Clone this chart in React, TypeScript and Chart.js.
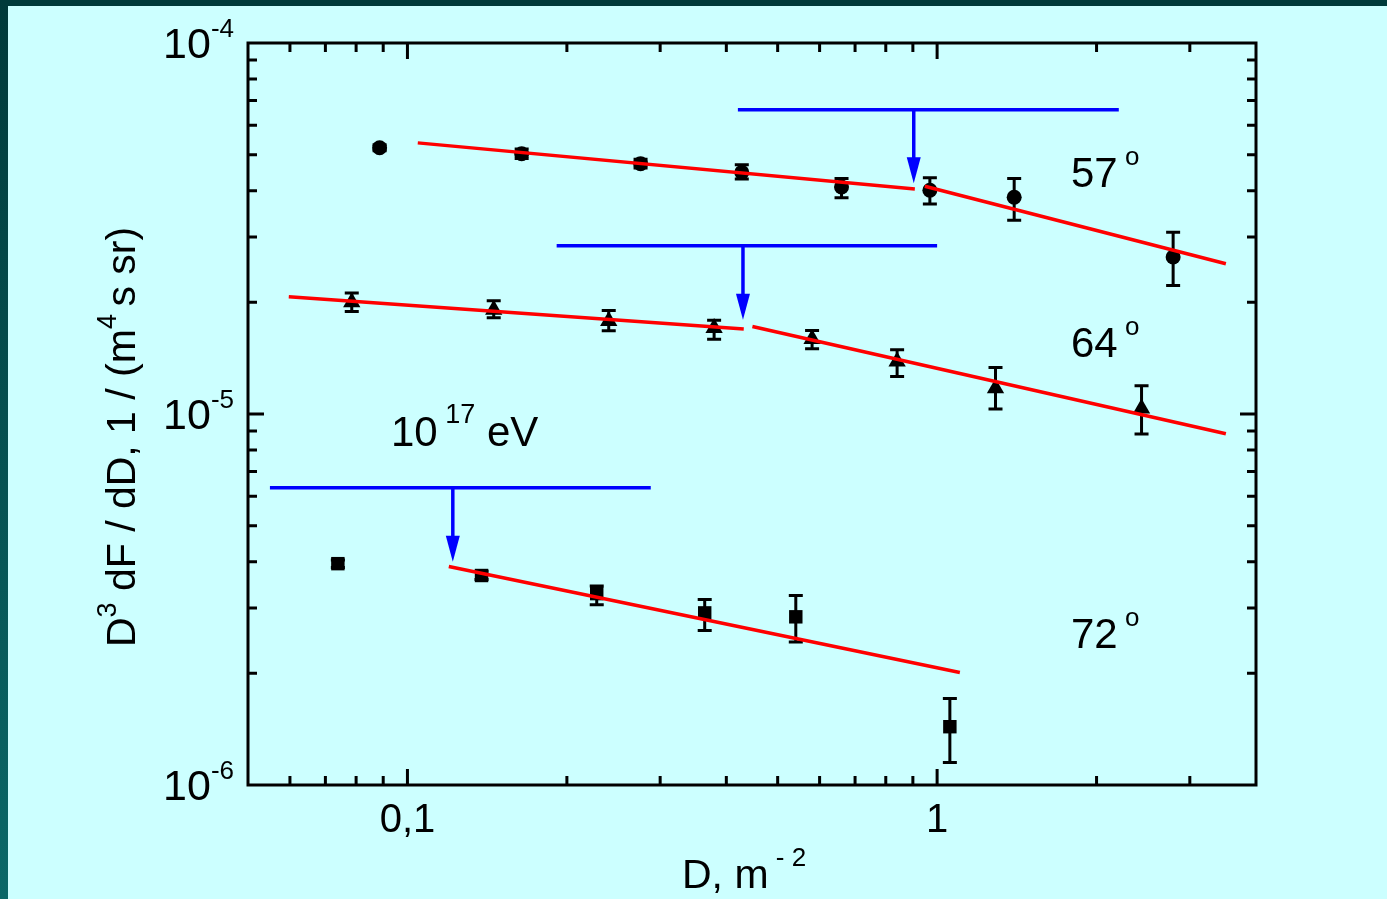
import React, { useEffect, useRef } from "react";
import { Chart, registerables } from "chart.js";

Chart.register(...registerables);

const FONT = '"Liberation Sans", Arial, Helvetica, sans-serif';
const W = 1387;
const H = 899;

// ---- 57 degrees (circles) ----
const d57 = [0.0886, 0.1643, 0.2755, 0.4278, 0.66, 0.969, 1.398, 2.79];
const f57 = [5.22e-5, 5.03e-5, 4.73e-5, 4.48e-5, 4.09e-5, 4.01e-5, 3.84e-5, 2.65e-5];
const f57Lo = [5.12e-5, 4.88e-5, 4.6e-5, 4.3e-5, 3.83e-5, 3.68e-5, 3.33e-5, 2.22e-5];
const f57Hi = [5.32e-5, 5.18e-5, 4.86e-5, 4.7e-5, 4.31e-5, 4.33e-5, 4.31e-5, 3.09e-5];

// ---- 64 degrees (triangles) ----
const d64 = [0.0785, 0.1455, 0.2399, 0.3793, 0.5807, 0.8404, 1.289, 2.432];
const f64 = [2.0e-5, 1.91e-5, 1.78e-5, 1.705e-5, 1.593e-5, 1.386e-5, 1.174e-5, 1.034e-5];
const f64Lo = [1.89e-5, 1.817e-5, 1.677e-5, 1.59e-5, 1.5e-5, 1.263e-5, 1.031e-5, 8.83e-6];
const f64Hi = [2.12e-5, 2.02e-5, 1.9e-5, 1.79e-5, 1.68e-5, 1.49e-5, 1.335e-5, 1.192e-5];

// ---- 72 degrees (squares) ----
const d72 = [0.0739, 0.138, 0.2277, 0.3641, 0.541, 1.057];
const f72 = [3.95e-6, 3.67e-6, 3.28e-6, 2.91e-6, 2.84e-6, 1.436e-6];
const f72Lo = [3.86e-6, 3.58e-6, 3.06e-6, 2.61e-6, 2.43e-6, 1.15e-6];
const f72Hi = [4.04e-6, 3.77e-6, 3.44e-6, 3.16e-6, 3.24e-6, 1.71e-6];

// ---- power-law fits (two branches for 57 and 64, one for 72) ----
const fit57aD = [0.1046, 0.9077];
const fit57aF = [5.38e-5, 4.04e-5];
const fit57bD = [0.948, 3.509];
const fit57bF = [4.11e-5, 2.54e-5];
const fit64aD = [0.0597, 0.4315];
const fit64aF = [2.07e-5, 1.694e-5];
const fit64bD = [0.448, 3.509];
const fit64bF = [1.722e-5, 8.85e-6];
const fit72D = [0.1197, 1.104];
const fit72F = [3.88e-6, 2.01e-6];

// ---- 10^17 eV cut levels and break markers ----
const cut57D = [0.4206, 2.203];
const cut57F = [6.61e-5, 6.61e-5];
const cut64D = [0.1913, 1.0];
const cut64F = [2.84e-5, 2.84e-5];
const cut72D = [0.055, 0.288];
const cut72F = [6.33e-6, 6.33e-6];
const arrowD = [0.9034, 0.43, 0.1218];
const arrowTop = [6.61e-5, 2.84e-5, 6.33e-6];
const arrowTip = [4.19e-5, 1.795e-5, 4.0e-6];

// ---- axes ----
const xMin = 0.05;
const xMax = 4;
const yMin = 1e-6;
const yMax = 1e-4;
const xMajorTicks = [0.1, 1];
const xTickLabels = ["0,1", "1"];
const xMinorTicks = [0.06, 0.07, 0.08, 0.09, 0.2, 0.3, 0.4, 0.5, 0.6, 0.7, 0.8, 0.9, 2, 3];
const yLabelTicks = [1e-6, 1e-5, 1e-4];
const yTickExps = ["-6", "-5", "-4"];
const yMajorTicks = [1e-5];
const yMinorTicks = [
  2e-6, 3e-6, 4e-6, 5e-6, 6e-6, 7e-6, 8e-6, 9e-6,
  2e-5, 3e-5, 4e-5, 5e-5, 6e-5, 7e-5, 8e-5, 9e-5,
];

const angleLabels = ["57", "64", "72"];

const pts = (xs: number[], ys: number[]) => xs.map((x, i) => ({ x, y: ys[i] }));

type Run = { t: string; size: number; rise: number };

function drawRuns(ctx: CanvasRenderingContext2D, runs: Run[], x: number, y: number, align: "left" | "center" | "right") {
  let w = 0;
  for (const r of runs) {
    ctx.font = `${r.size}px ${FONT}`;
    w += ctx.measureText(r.t).width;
  }
  let cx = align === "left" ? x : align === "center" ? x - w / 2 : x - w;
  ctx.textAlign = "left";
  ctx.textBaseline = "alphabetic";
  for (const r of runs) {
    ctx.font = `${r.size}px ${FONT}`;
    ctx.fillText(r.t, cx, y - r.rise);
    cx += ctx.measureText(r.t).width;
  }
}

const backgroundPlugin = {
  id: "slideBackground",
  beforeDraw(chart: any) {
    const ctx = chart.ctx as CanvasRenderingContext2D;
    ctx.save();
    ctx.fillStyle = "#CCFFFF";
    ctx.fillRect(0, 0, W, H);
    ctx.fillStyle = "#003A3A";
    ctx.fillRect(0, 0, W, 6);
    const g = ctx.createLinearGradient(0, 0, 0, H);
    g.addColorStop(0, "#003A3A");
    g.addColorStop(1, "#0B6868");
    ctx.fillStyle = g;
    ctx.fillRect(0, 0, 8, H);
    ctx.restore();
  },
};

const errorBarPlugin = {
  id: "errorBars",
  beforeDatasetsDraw(chart: any) {
    const ctx = chart.ctx as CanvasRenderingContext2D;
    const xs = chart.scales.x;
    const ys = chart.scales.y;
    const groups: [number[], number[], number[]][] = [
      [d57, f57Lo, f57Hi],
      [d64, f64Lo, f64Hi],
      [d72, f72Lo, f72Hi],
    ];
    ctx.save();
    ctx.strokeStyle = "#000";
    ctx.lineWidth = 3;
    ctx.lineCap = "butt";
    for (const [d, lo, hi] of groups) {
      d.forEach((dv, i) => {
        const px = xs.getPixelForValue(dv);
        const p1 = ys.getPixelForValue(lo[i]);
        const p2 = ys.getPixelForValue(hi[i]);
        ctx.beginPath();
        ctx.moveTo(px, p1);
        ctx.lineTo(px, p2);
        ctx.moveTo(px - 7, p1);
        ctx.lineTo(px + 7, p1);
        ctx.moveTo(px - 7, p2);
        ctx.lineTo(px + 7, p2);
        ctx.stroke();
      });
    }
    ctx.restore();
  },
};

const arrowPlugin = {
  id: "breakArrows",
  afterDatasetsDraw(chart: any) {
    const ctx = chart.ctx as CanvasRenderingContext2D;
    const xs = chart.scales.x;
    const ys = chart.scales.y;
    const headLen = 26;
    const headHalf = 7;
    ctx.save();
    ctx.strokeStyle = "#0000FF";
    ctx.fillStyle = "#0000FF";
    ctx.lineWidth = 3.5;
    arrowD.forEach((dv, i) => {
      const px = xs.getPixelForValue(dv);
      const top = ys.getPixelForValue(arrowTop[i]);
      const tip = ys.getPixelForValue(arrowTip[i]);
      ctx.beginPath();
      ctx.moveTo(px, top);
      ctx.lineTo(px, tip - headLen + 2);
      ctx.stroke();
      ctx.beginPath();
      ctx.moveTo(px - headHalf, tip - headLen);
      ctx.lineTo(px + headHalf, tip - headLen);
      ctx.lineTo(px, tip);
      ctx.closePath();
      ctx.fill();
    });
    ctx.restore();
  },
};

const framePlugin = {
  id: "frameAndLabels",
  afterDraw(chart: any) {
    const ctx = chart.ctx as CanvasRenderingContext2D;
    const { left, right, top, bottom } = chart.chartArea;
    const xs = chart.scales.x;
    const ys = chart.scales.y;
    ctx.save();
    ctx.strokeStyle = "#000";
    ctx.lineWidth = 3;
    ctx.lineCap = "butt";
    ctx.strokeRect(left, top, right - left, bottom - top);

    const major = 16;
    const minor = 9;
    ctx.beginPath();
    const xTick = (v: number, len: number) => {
      const px = xs.getPixelForValue(v);
      ctx.moveTo(px, bottom);
      ctx.lineTo(px, bottom - len);
      ctx.moveTo(px, top);
      ctx.lineTo(px, top + len);
    };
    const yTick = (v: number, len: number) => {
      const py = ys.getPixelForValue(v);
      ctx.moveTo(left, py);
      ctx.lineTo(left + len, py);
      ctx.moveTo(right, py);
      ctx.lineTo(right - len, py);
    };
    xMajorTicks.forEach((v) => xTick(v, major));
    xMinorTicks.forEach((v) => xTick(v, minor));
    yMajorTicks.forEach((v) => yTick(v, major));
    yMinorTicks.forEach((v) => yTick(v, minor));
    ctx.stroke();

    ctx.fillStyle = "#000";
    // tick labels
    xMajorTicks.forEach((v, i) => {
      const px = xs.getPixelForValue(v);
      drawRuns(ctx, [{ t: xTickLabels[i], size: 40, rise: 0 }], px, bottom + 47, "center");
    });
    yLabelTicks.forEach((v, i) => {
      const py = ys.getPixelForValue(v);
      drawRuns(
        ctx,
        [
          { t: "10", size: 43, rise: 0 },
          { t: yTickExps[i], size: 26, rise: 21 },
        ],
        left - 14,
        py + 15,
        "right"
      );
    });

    // axis titles
    drawRuns(
      ctx,
      [
        { t: "D, m", size: 41, rise: 0 },
        { t: " - 2", size: 26, rise: 22 },
      ],
      682,
      888,
      "left"
    );
    ctx.save();
    ctx.translate(135, 437);
    ctx.rotate(-Math.PI / 2);
    drawRuns(
      ctx,
      [
        { t: "D", size: 41, rise: 0 },
        { t: "3", size: 27, rise: 19 },
        { t: " dF / dD, 1 / (m", size: 41, rise: 0 },
        { t: "4 ", size: 27, rise: 19 },
        { t: "s sr)", size: 41, rise: 0 },
      ],
      0,
      0,
      "center"
    );
    ctx.restore();

    // series annotations
    const angleY = [187, 357, 648];
    angleLabels.forEach((t, i) => {
      drawRuns(
        ctx,
        [
          { t, size: 42, rise: 0 },
          { t: " o", size: 26, rise: 22 },
        ],
        1071,
        angleY[i],
        "left"
      );
    });
    drawRuns(
      ctx,
      [
        { t: "10", size: 42, rise: 0 },
        { t: " 17", size: 27, rise: 23 },
        { t: " eV", size: 42, rise: 0 },
      ],
      391,
      446,
      "left"
    );
    ctx.restore();
  },
};

export default function App() {
  const canvasRef = useRef<HTMLCanvasElement | null>(null);

  useEffect(() => {
    const canvas = canvasRef.current;
    if (!canvas) return;

    const lineDs = (label: string, xs: number[], ys: number[], color: string) => ({
      label,
      data: pts(xs, ys),
      showLine: true,
      borderColor: color,
      backgroundColor: color,
      borderWidth: 3.5,
      pointRadius: 0,
      pointHoverRadius: 0,
      fill: false,
      tension: 0,
    });
    const markerDs = (label: string, xs: number[], ys: number[], style: string, r: number) => ({
      label,
      data: pts(xs, ys),
      showLine: false,
      pointStyle: style,
      pointRadius: r,
      pointHoverRadius: r,
      backgroundColor: "#000",
      borderColor: "#000",
      borderWidth: 0,
    });

    const chart = new Chart(canvas, {
      type: "scatter",
      data: {
        datasets: [
          lineDs("fit 57a", fit57aD, fit57aF, "#FF0000"),
          lineDs("fit 57b", fit57bD, fit57bF, "#FF0000"),
          lineDs("fit 64a", fit64aD, fit64aF, "#FF0000"),
          lineDs("fit 64b", fit64bD, fit64bF, "#FF0000"),
          lineDs("fit 72", fit72D, fit72F, "#FF0000"),
          lineDs("cut 57", cut57D, cut57F, "#0000FF"),
          lineDs("cut 64", cut64D, cut64F, "#0000FF"),
          lineDs("cut 72", cut72D, cut72F, "#0000FF"),
          markerDs("57°", d57, f57, "circle", 7.5),
          markerDs("64°", d64, f64, "triangle", 10),
          markerDs("72°", d72, f72, "rect", 9.5),
        ] as any,
      },
      options: {
        responsive: false,
        animation: false,
        devicePixelRatio: 1,
        layout: { padding: { left: 248, right: W - 1256, top: 43, bottom: H - 785 } },
        plugins: { legend: { display: false }, tooltip: { enabled: false } },
        events: [],
        scales: {
          x: { type: "logarithmic", min: xMin, max: xMax, display: false },
          y: { type: "logarithmic", min: yMin, max: yMax, display: false },
        },
      },
      plugins: [backgroundPlugin, errorBarPlugin, arrowPlugin, framePlugin],
    });

    return () => chart.destroy();
  }, []);

  return (
    <div style={{ position: "fixed", left: 0, top: 0, width: W, height: H }}>
      <canvas ref={canvasRef} width={W} height={H} style={{ display: "block" }} />
    </div>
  );
}
